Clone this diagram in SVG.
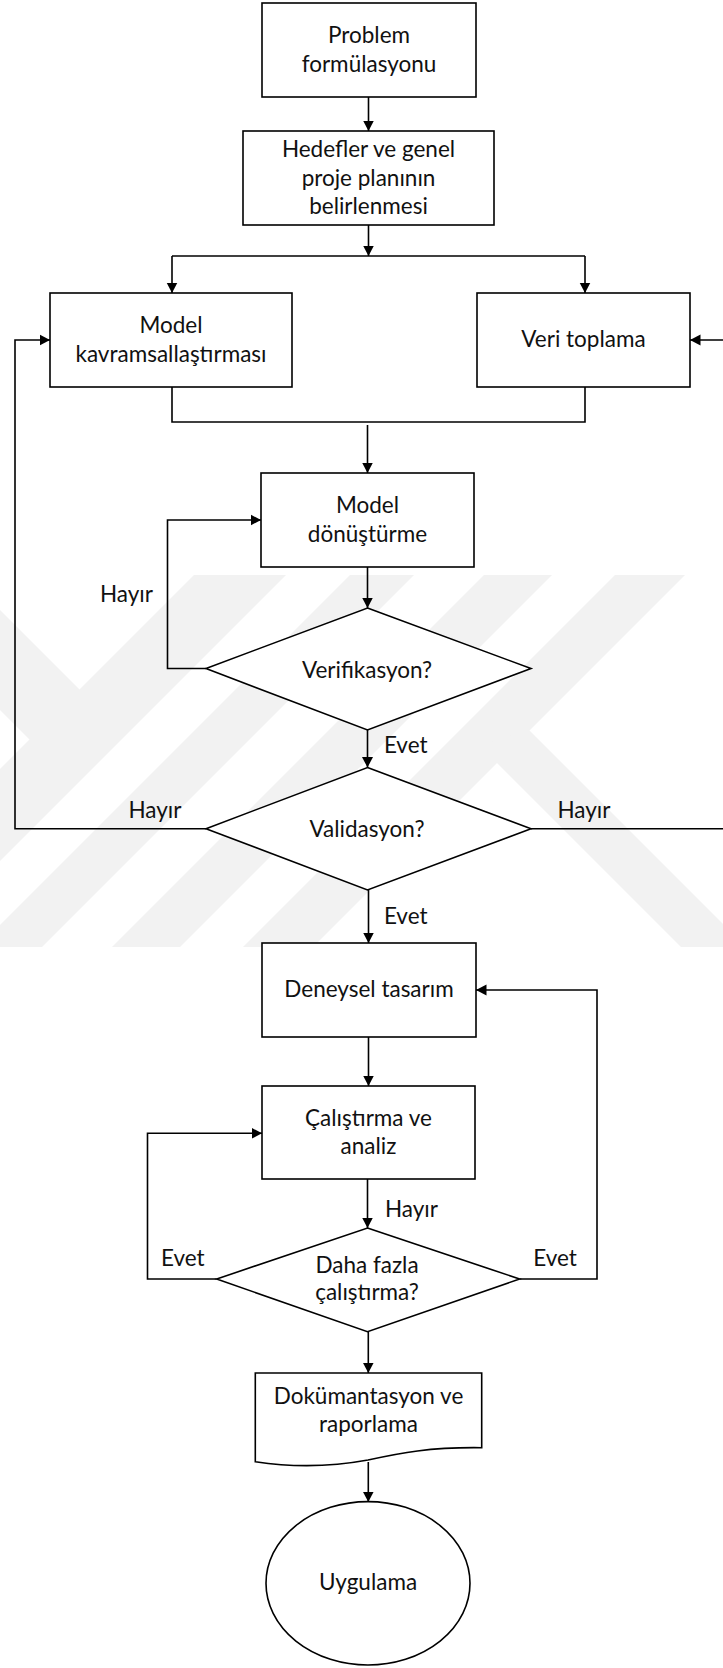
<svg xmlns="http://www.w3.org/2000/svg" width="723" height="1668" viewBox="0 0 723 1668">
<style>
.n{fill:#fff;stroke:#000;stroke-width:1.6}
.c{fill:none;stroke:#000;stroke-width:1.6}
.t{font-family:Lato,"Liberation Sans",sans-serif;font-size:22.5px;fill:#111;text-anchor:middle}
.wm{fill:#f2f2f2}
</style>
<defs>
<marker id="ah" markerUnits="userSpaceOnUse" markerWidth="11" markerHeight="12" refX="10.5" refY="6" orient="auto" viewBox="0 0 11 12">
<path d="M0,0.5 L10.5,6 L0,11.5 z" fill="#000"/>
</marker>
<clipPath id="wmclip"><rect x="0" y="575" width="723" height="372"/></clipPath>
</defs>
<rect width="723" height="1668" fill="#fff"/>
<g id="watermark" clip-path="url(#wmclip)">
<polygon class="wm" points="194,575 286,575 -86,947 -178,947"/>
<polygon class="wm" points="350,575 414,575 42,947 -22,947"/>
<polygon class="wm" points="484,575 552,575 180,947 112,947"/>
<polygon class="wm" points="615,575 685,575 313,947 243,947"/>
<polygon class="wm" points="529,730 800,1001 735,1001 480,746"/>
<polygon class="wm" points="0,610 110,720 60,770 0,710"/>
</g>
<g id="connectors">
<path class="c" d="M368.5,97 L368.5,131" marker-end="url(#ah)"/>
<path class="c" d="M368.5,225 L368.5,256" marker-end="url(#ah)"/>
<path class="c" d="M172,256 L585,256"/>
<path class="c" d="M172,256 L172,293" marker-end="url(#ah)"/>
<path class="c" d="M585,256 L585,293" marker-end="url(#ah)"/>
<path class="c" d="M172,387 L172,422 L585,422 L585,387"/>
<path class="c" d="M367.5,425 L367.5,473" marker-end="url(#ah)"/>
<path class="c" d="M367.5,567 L367.5,608" marker-end="url(#ah)"/>
<path class="c" d="M206,668.5 L167.5,668.5 L167.5,520 L261,520" marker-end="url(#ah)"/>
<path class="c" d="M367.5,730 L367.5,767.5" marker-end="url(#ah)"/>
<path class="c" d="M206,828.7 L15,828.7 L15,340 L50,340" marker-end="url(#ah)"/>
<path class="c" d="M531,828.7 L740,828.7 L740,340 L690,340" marker-end="url(#ah)"/>
<path class="c" d="M368.5,890 L368.5,943" marker-end="url(#ah)"/>
<path class="c" d="M368.5,1037 L368.5,1086" marker-end="url(#ah)"/>
<path class="c" d="M367.5,1179 L367.5,1228" marker-end="url(#ah)"/>
<path class="c" d="M216.7,1279 L147.5,1279 L147.5,1133.3 L262,1133.3" marker-end="url(#ah)"/>
<path class="c" d="M519.6,1279 L597,1279 L597,990 L476,990" marker-end="url(#ah)"/>
<path class="c" d="M368.3,1331.7 L368.3,1373" marker-end="url(#ah)"/>
<path class="c" d="M368.3,1462 L368.3,1502" marker-end="url(#ah)"/>
</g>
<g id="labels">
<text class="t" x="126.5" y="601.7">Hayır</text>
<text class="t" x="405.7" y="753.3">Evet</text>
<text class="t" x="155" y="818.3">Hayır</text>
<text class="t" x="584" y="818.3">Hayır</text>
<text class="t" x="405.7" y="924.3">Evet</text>
<text class="t" x="411.5" y="1216.7">Hayır</text>
<text class="t" x="182.8" y="1266">Evet</text>
<text class="t" x="555" y="1266">Evet</text>
</g>
<g id="problem">
<rect class="n" x="262" y="3" width="214" height="94"/>
<text class="t" x="369" y="43.3">Problem</text>
<text class="t" x="369" y="71.7">formülasyonu</text>
</g>
<g id="hedefler">
<rect class="n" x="243" y="131" width="251" height="94"/>
<text class="t" x="368.5" y="156.7">Hedefler ve genel</text>
<text class="t" x="368.5" y="186">proje planının</text>
<text class="t" x="368.5" y="214">belirlenmesi</text>
</g>
<g id="model-kavram">
<rect class="n" x="50" y="293" width="242" height="94"/>
<text class="t" x="171" y="333.3">Model</text>
<text class="t" x="171" y="362.3">kavramsallaştırması</text>
</g>
<g id="veri">
<rect class="n" x="477" y="293" width="213" height="94"/>
<text class="t" x="583.5" y="347.3">Veri toplama</text>
</g>
<g id="model-donusturme">
<rect class="n" x="261" y="473" width="213" height="94"/>
<text class="t" x="367.5" y="513.3">Model</text>
<text class="t" x="367.5" y="542.3">dönüştürme</text>
</g>
<g id="verifikasyon">
<polygon class="n" points="367.5,608 531,668.5 367.5,730 206,668.5"/>
<text class="t" x="367" y="677.7">Verifikasyon?</text>
</g>
<g id="validasyon">
<polygon class="n" points="367.5,767.5 531,828.7 367.5,890 206,828.7"/>
<text class="t" x="367" y="837.3">Validasyon?</text>
</g>
<g id="deneysel">
<rect class="n" x="262" y="943" width="214" height="94"/>
<text class="t" x="369" y="997.3">Deneysel tasarım</text>
</g>
<g id="calistirma">
<rect class="n" x="262" y="1086" width="213" height="93"/>
<text class="t" x="368.5" y="1126">Çalıştırma ve</text>
<text class="t" x="368.5" y="1154.3">analiz</text>
</g>
<g id="daha-fazla">
<polygon class="n" points="367.5,1228 519.6,1279 367.5,1331.7 216.7,1279"/>
<text class="t" x="367" y="1272.7">Daha fazla</text>
<text class="t" x="367" y="1300">çalıştırma?</text>
</g>
<g id="dokumantasyon">
<path class="n" d="M255.3,1373 L481.7,1373 L481.7,1447.7 C430,1447 400,1453 368,1460 C330,1467 290,1467 255.3,1461.7 Z"/>
<text class="t" x="368.5" y="1404">Dokümantasyon ve</text>
<text class="t" x="368.5" y="1432.3">raporlama</text>
</g>
<g id="uygulama">
<ellipse class="n" cx="368" cy="1583.3" rx="102" ry="81.7"/>
<text class="t" x="368" y="1590">Uygulama</text>
</g>
</svg>
